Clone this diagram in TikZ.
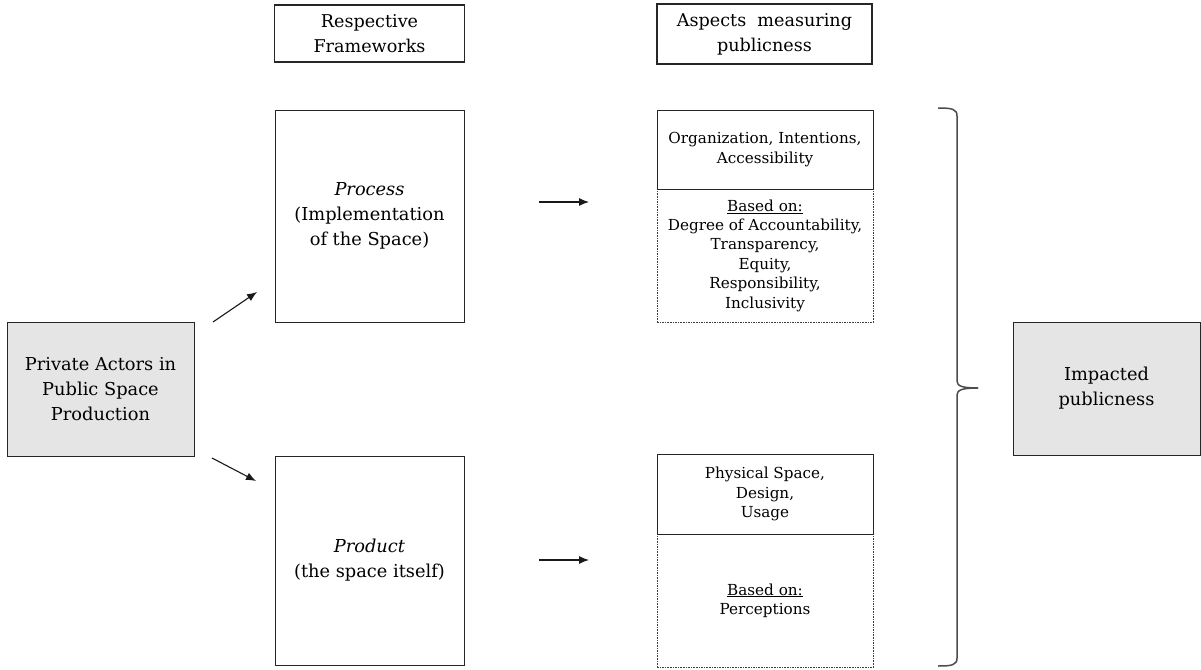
\documentclass[tikz,border=0pt]{standalone}
\usepackage{fontspec}
\setmainfont{DejaVu Serif}
\usetikzlibrary{arrows.meta}
\definecolor{boxgray}{HTML}{E6E5E6}
\tikzset{
  box/.style={draw=black!85, line width=1pt, rectangle, align=center, inner sep=2pt},
  head/.style={box, line width=1.6pt, font=\fontsize{17.6}{25}\selectfont},
  big/.style={font=\fontsize{17.8}{25}\selectfont},
  small/.style={font=\fontsize{15.2}{19.4}\selectfont},
  dbox/.style={draw=black!75, line width=0.8pt, dash pattern=on 1.6pt off 1pt, rectangle, align=center},
  arr/.style={-{Latex[length=10pt,width=8pt]}, line width=1.1pt, black!90},
  bracepath/.style={draw=black!70, line width=1.5pt}
}
\begin{document}
\begin{tikzpicture}[x=1pt,y=-1pt]
\useasboundingbox (0,0) rectangle (1201,669);
% headers
\node[head, minimum width=190pt, minimum height=57pt] (h1) at (369.5,33.5) {Respective\\Frameworks};
\node[head, minimum width=215pt, minimum height=60pt] (h2) at (764.5,34) {Aspects~~measuring\\publicness};
% left and right grey boxes
\node[box, big, fill=boxgray, minimum width=187pt, minimum height=134pt] (priv) at (100.5,389) {Private Actors in\\Public Space\\Production};
\node[box, big, fill=boxgray, minimum width=187pt, minimum height=133pt] (imp) at (1106.5,388.5) {Impacted\\publicness};
% frameworks
\node[box, big, minimum width=189pt, minimum height=212pt] (proc) at (369.5,216) {\textit{Process}\\(Implementation\\of the Space)};
\node[box, big, minimum width=189pt, minimum height=209pt] (prod) at (369.5,560.5) {\textit{Product}\\(the space itself)};
% aspects top
\node[dbox, small, minimum width=216pt, minimum height=133pt] (a1b) at (765,255.5) {\underline{Based on:}\\Degree of Accountability,\\Transparency,\\Equity,\\Responsibility,\\Inclusivity};
\node[box, small, minimum width=216pt, minimum height=79pt] (a1t) at (765,149.5) {Organization, Intentions,\\Accessibility};
% aspects bottom
\node[dbox, small, minimum width=216pt, minimum height=133pt] (a2b) at (765,600.5) {\underline{Based on:}\\Perceptions};
\node[box, small, minimum width=216pt, minimum height=80pt] (a2t) at (765,494) {Physical Space,\\Design,\\Usage};
% arrows
\coordinate (s1) at (213,322); \coordinate (e1) at (257,292);
\coordinate (s2) at (212,458); \coordinate (e2) at (256,481);
\coordinate (s3) at (539,202); \coordinate (e3) at (589,202);
\coordinate (s4) at (539,560); \coordinate (e4) at (589,560);
\draw[arr] (s1) -- (e1);
\draw[arr] (s2) -- (e2);
\draw[arr] (s3) -- (e3);
\draw[arr] (s4) -- (e4);
% brace
\coordinate (bt) at (938,108);
\coordinate (bb) at (938,666);
\coordinate (btip) at (978,388);
\draw[bracepath] (bt) .. controls (952,108) and (957,109) .. (957,116)
  -- (957,381) .. controls (957,386) and (962,388) .. (btip);
\draw[bracepath] (btip) .. controls (962,388) and (957,390) .. (957,395)
  -- (957,658) .. controls (957,665) and (952,666) .. (bb);
\end{tikzpicture}
\end{document}
